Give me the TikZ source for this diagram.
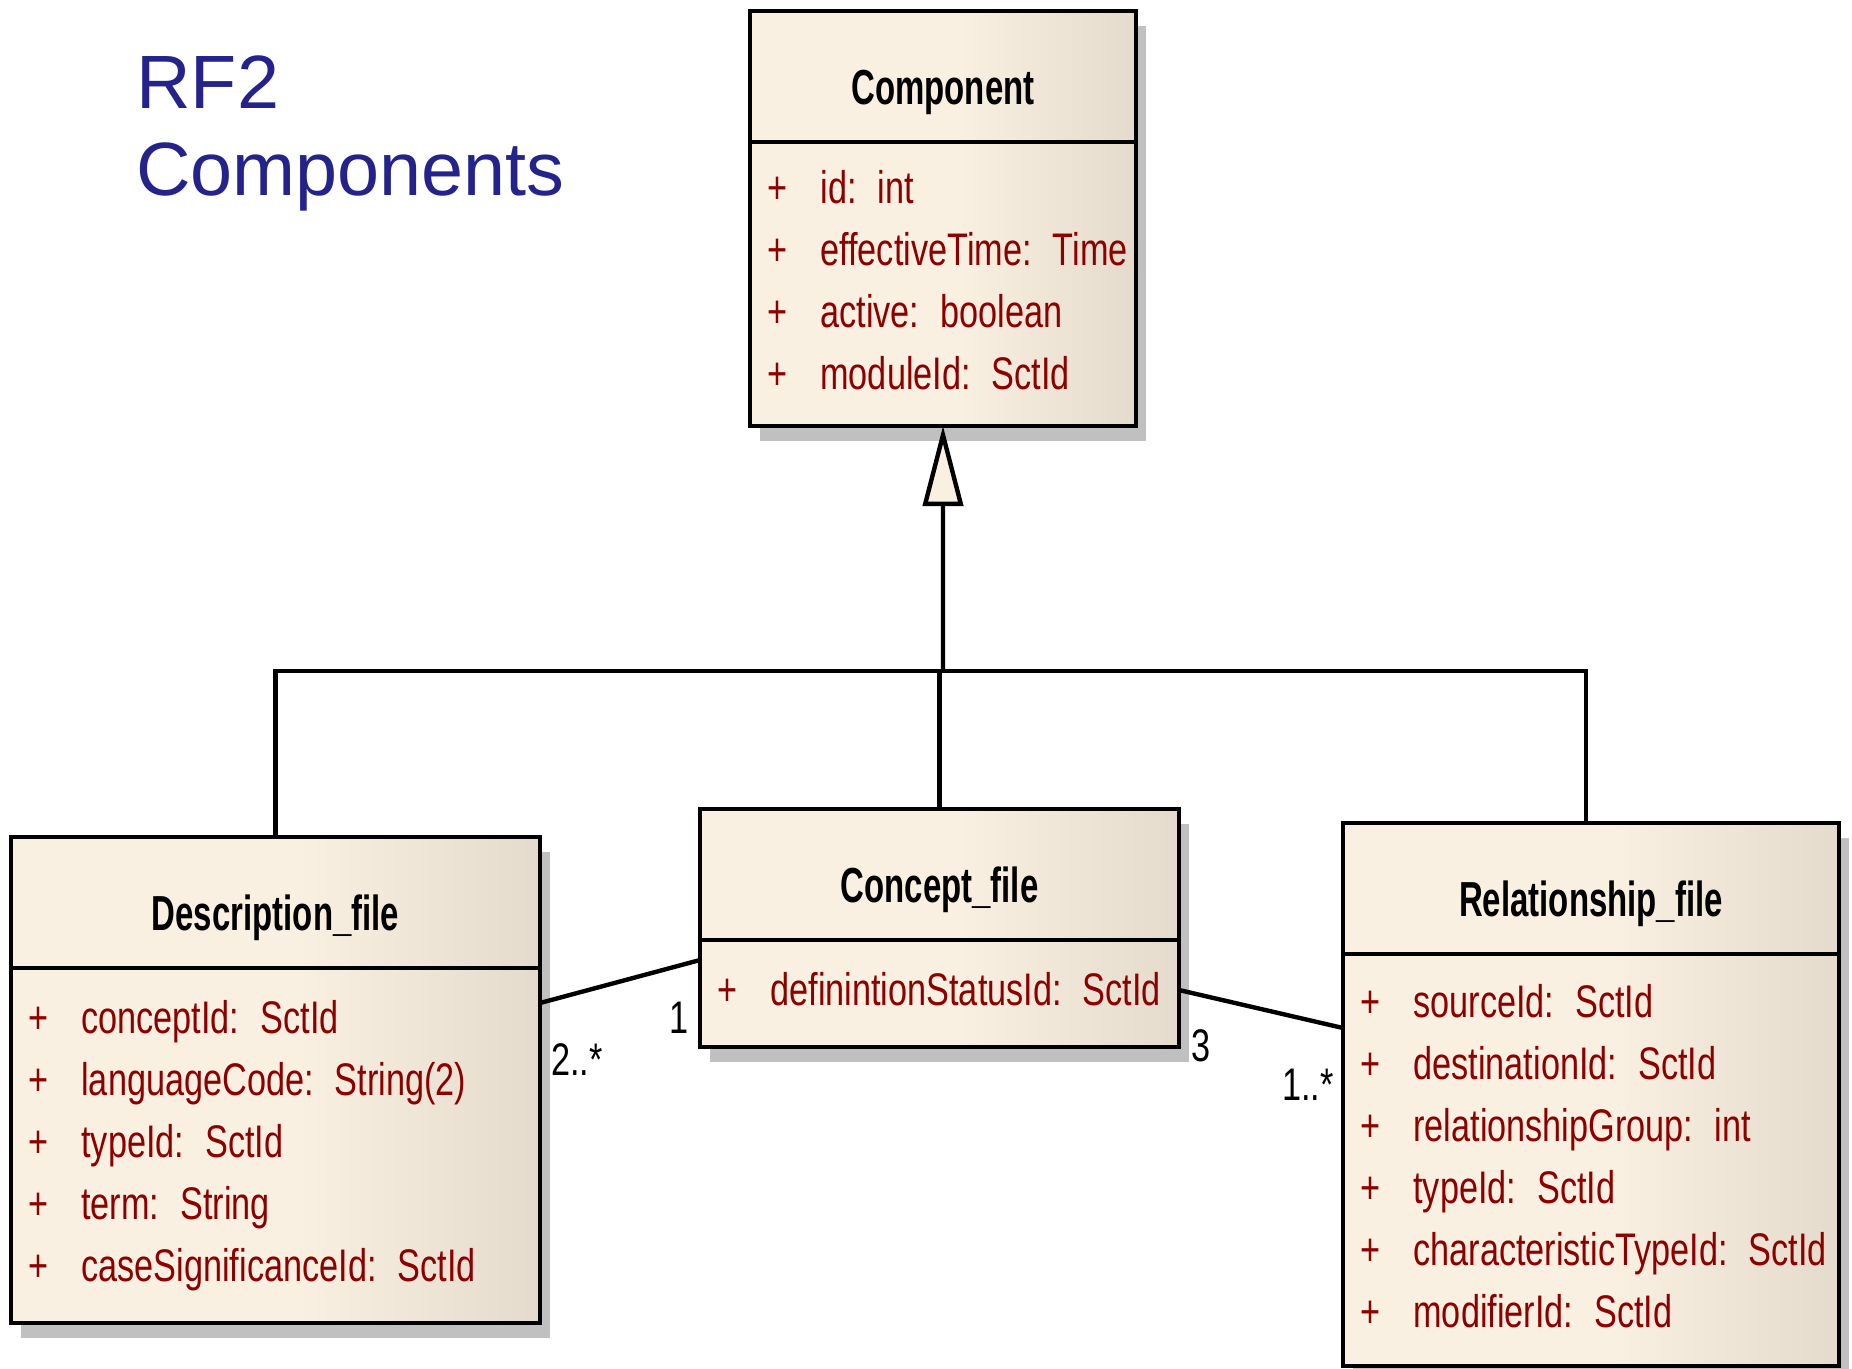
\documentclass[tikz,border=0pt]{standalone}
\usepackage{fontspec}
\setmainfont{Liberation Sans}
\newfontfamily\umlfont[FakeStretch=0.75]{Liberation Sans}
\newfontfamily\umlhead[FakeStretch=0.67]{Liberation Sans}
\usepackage{xcolor}
\usepackage{tikz}
\usetikzlibrary{arrows.meta, positioning, shadows}

\definecolor{titleblue}{RGB}{35,35,139}
\definecolor{attrred}{RGB}{140,0,0}
\definecolor{boxlight}{RGB}{250,240,226}
\definecolor{boxdark}{RGB}{228,219,204}
\definecolor{shadowgray}{RGB}{192,192,192}

% cream to beige, dark only on the right part of a class box
\pgfdeclarehorizontalshading{boxshade}{100bp}{color(0bp)=(boxlight); color(25bp)=(boxlight); color(52bp)=(boxlight); color(75bp)=(boxdark); color(100bp)=(boxdark)}

% one attribute row: visibility, name, type
\newcommand{\attr}[2]{\mbox{\strut+\hspace{19pt}#1:\hspace{12pt}#2}}

\begin{document}
\begin{tikzpicture}[
    clsbox/.style={rectangle, draw=black, line width=2.2pt, shade, shading=boxshade, outer sep=0pt, inner sep=0pt,
        drop shadow={shadow xshift=0.2cm, shadow yshift=-0.3cm, fill=shadowgray, opacity=1}},
    clshead/.style={clsbox, minimum width=#1, minimum height=2.62cm, text=black,
        font=\umlhead\bfseries\fontsize{28}{34}\selectfont, text height=32pt, text depth=0pt},
    clsbody/.style={clsbox, text width=#1, inner xsep=0.34cm, align=left, text=attrred,
        font=\umlfont\fontsize{26}{35.3}\selectfont},
    genline/.style={-{Triangle[length=1.6cm, width=0.8cm, fill=boxlight]}, line width=2.5pt},
    assoc/.style={line width=2.5pt},
    mult/.style={inner sep=0pt, font=\umlfont\fontsize{26}{30}\selectfont}
    ]
    \path[use as bounding box] (0,0) rectangle (37.04,-27.36);

    % Titlu
    \node[anchor=north west, inner sep=0pt, align=left, text=titleblue,
          font=\fontsize{43}{49.5}\selectfont] (title) at (2.72,-1.10) {RF2\\Components};

    % Clasa de baza
    \node[clshead=7.72cm, anchor=north west] (comphead) at (15.0,-0.22) {Component};
    \node[clsbody=7.04cm, minimum height=5.68cm, below=0pt of comphead] (compbody) {%
        \attr{id}{int}\\
        \attr{effectiveTime}{Time}\\
        \attr{active}{boolean}\\
        \attr{moduleId}{SctId}};

    % Fisierele RF2
    \node[clshead=10.58cm, anchor=north west] (deschead) at (0.22,-16.74) {Description\_file};
    \node[clsbody=9.90cm, minimum height=7.10cm, below=0pt of deschead] (descbody) {%
        \attr{conceptId}{SctId}\\
        \attr{languageCode}{String(2)}\\
        \attr{typeId}{SctId}\\
        \attr{term}{String}\\
        \attr{caseSignificanceId}{SctId}};

    \node[clshead=9.58cm, anchor=north west] (conchead) at (14.0,-16.18) {Concept\_file};
    \node[clsbody=8.90cm, minimum height=2.14cm, below=0pt of conchead] (concbody) {%
        \attr{definintionStatusId}{SctId}};

    \node[clshead=9.92cm, anchor=north west] (relhead) at (26.86,-16.46) {Relationship\_file};
    \node[clsbody=9.24cm, minimum height=8.24cm, below=0pt of relhead] (relbody) {%
        \attr{sourceId}{SctId}\\
        \attr{destinationId}{SctId}\\
        \attr{relationshipGroup}{int}\\
        \attr{typeId}{SctId}\\
        \attr{characteristicTypeId}{SctId}\\
        \attr{modifierId}{SctId}};

    % Generalizare
    \coordinate (bus) at (18.86,-13.42);
    \draw[genline] (bus) -- (compbody.south);
    \draw[assoc] (deschead.north) |- (bus) -| ([xshift=-0.1cm]relhead.north);
    \draw[assoc] (conchead.north) -- (conchead.north |- bus);

    % Asocieri
    \draw[assoc] ([yshift=-0.7cm]descbody.north east) -- ([yshift=-0.4cm]concbody.north west);
    \draw[assoc] ([yshift=-1.0cm]concbody.north east) -- ([yshift=-1.48cm]relbody.north west);

    % Multiplicitati
    \node[mult] (mdesc) at (11.54,-21.20) {2..*};
    \node[mult] (mconc1) at (13.58,-20.36) {1};
    \node[mult] (mconc2) at (24.02,-20.92) {3};
    \node[mult] (mrel) at (26.16,-21.70) {1..*};
\end{tikzpicture}
\end{document}
